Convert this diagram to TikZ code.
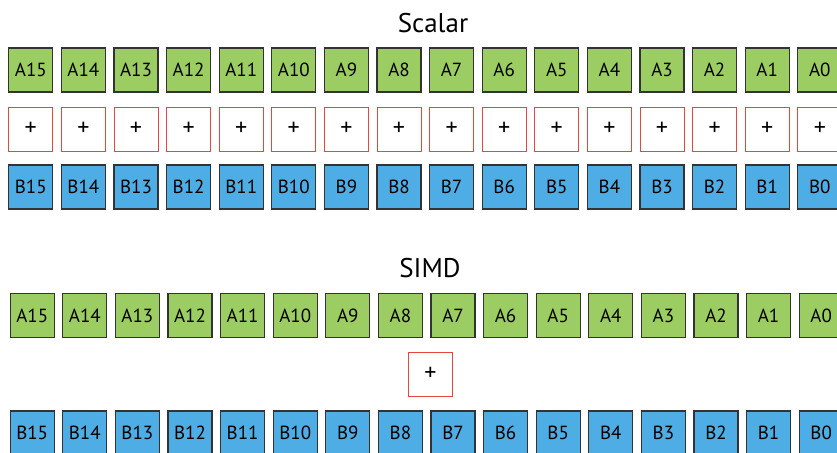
\documentclass[tikz,border=0pt]{standalone}
\usepackage{fontspec}
\setmainfont{PT Sans}
\definecolor{regA}{HTML}{9CCD62}
\definecolor{regB}{HTML}{4FADE6}
\definecolor{opred}{HTML}{E8473C}

\begin{document}
\begin{tikzpicture}[x=1pt,y=-1pt,
    reg/.style={draw=black!80,line width=1.3pt,minimum size=44pt,inner sep=0pt,font=\fontsize{19}{19}\selectfont},
    rega/.style={reg,fill=regA},
    regb/.style={reg,fill=regB},
    addbox/.style={draw=opred,line width=1pt,minimum size=44pt,inner sep=0pt,fill=white,font=\fontsize{24}{24}\selectfont},
    heading/.style={anchor=base,font=\fontsize{27}{27}\selectfont}]
  \useasboundingbox (0,0) rectangle (837,452);
  % scalar: one add per lane
  \node[heading] (scalar) at (433,32.3) {Scalar};
  \foreach \i in {0,...,15}{
    \pgfmathsetmacro\xx{30.8+(15-\i)*52.6}
    \node[rega] (sa\i) at (\xx,70) {A\i};
    \node[addbox] (sp\i) at (\xx,129) {+};
    \node[regb] (sb\i) at (\xx,187) {B\i};
  }
  % simd: one add for all lanes
  \node[heading] (simd) at (430,277.3) {SIMD};
  \foreach \i in {0,...,15}{
    \pgfmathsetmacro\xx{32.2+(15-\i)*52.6}
    \node[rega] (va\i) at (\xx,315.5) {A\i};
    \node[regb] (vb\i) at (\xx,433) {B\i};
  }
  \node[addbox] (vp) at (430.5,374) {+};
\end{tikzpicture}
\end{document}
